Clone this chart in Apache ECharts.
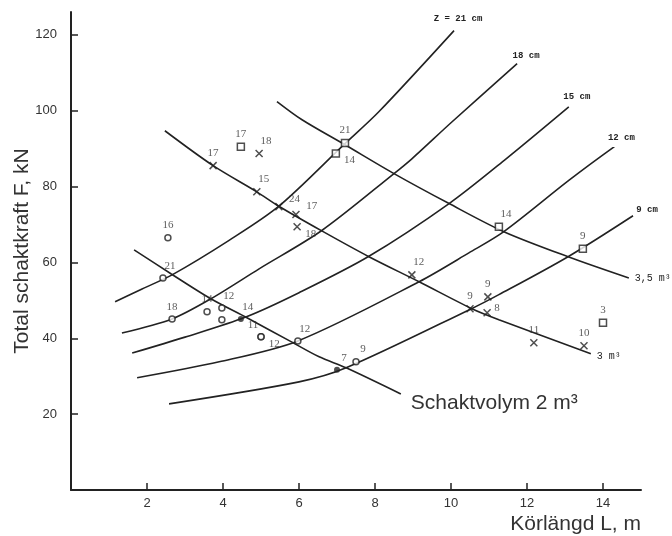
<!DOCTYPE html>
<html>
<head>
<meta charset="utf-8">
<script src="https://cdn.jsdelivr.net/npm/echarts@6/dist/echarts.min.js"></script>
<style>
  html, body { margin: 0; padding: 0; background: #fff; }
  #chart { width: 672px; height: 536px; }
</style>
</head>
<body>
<div id="chart"></div>
<script>
// Z-kurvor (skärdjup), rästa fram ur diagrammet
const z21X = [1.16, 1.87, 2.66, 4.16, 5.47, 7.21, 8.1, 10.08]
const z21Y = [49.6, 53.0, 56.7, 65.8, 74.8, 91.3, 99.7, 121.1]
const z18X = [1.34, 2.66, 3.68, 4.95, 6.6, 8.5, 8.97, 10.0, 11.74]
const z18Y = [41.4, 45.1, 50.4, 58.3, 68.4, 83.4, 87.3, 96.8, 112.4]
const z15X = [1.61, 3.0, 4.6, 6.0, 7.84, 9.95, 11.45, 13.1]
const z15Y = [36.1, 40.3, 45.6, 52.0, 61.6, 75.5, 87.3, 101.0]
const z12X = [1.74, 3.9, 5.97, 9.16, 10.47, 11.39, 13.1, 14.3]
const z12Y = [29.6, 33.8, 39.3, 54.9, 62.5, 68.1, 81.6, 90.5]
const z9X = [2.58, 6.0, 7.24, 10.5, 11.26, 13.08, 14.79]
const z9Y = [22.7, 28.5, 32.2, 47.6, 51.5, 61.5, 72.3]

// schaktvolym-kurvor
const v2X = [1.66, 2.63, 3.68, 4.63, 5.79, 6.53, 7.24, 8.68]
const v2Y = [63.3, 57.0, 50.4, 45.4, 39.1, 35.1, 32.2, 25.3]
const v3X = [2.47, 3.74, 4.89, 5.47, 6.6, 7.84, 9.16, 10.55, 11.26, 13.68]
const v3Y = [94.7, 85.5, 78.6, 74.8, 68.3, 61.5, 54.9, 47.8, 44.9, 35.9]
const v35X = [5.42, 6.08, 7.21, 8.5, 9.95, 11.39, 13.08, 14.68]
const v35Y = [102.4, 97.6, 91.0, 83.4, 75.5, 68.1, 61.5, 55.9]

// mätpunkter
const circleX = [2.55, 2.42, 2.66, 3.58, 3.97, 3.97, 5.0, 5.0, 5.97, 7.5]
const circleY = [66.5, 55.9, 45.1, 47.0, 48.0, 44.9, 40.4, 40.4, 39.3, 33.8]
const circleNo = ['16', '21', '18', '14', '12', '', '11', '12', '12', '9']
const dotX = [4.47, 7.0]
const dotY = [45.1, 31.7]
const dotNo = ['14', '7']
const crossX = [3.74, 4.95, 4.89, 5.47, 5.92, 5.95, 8.97, 10.5, 10.97, 10.95, 12.18, 13.5]
const crossY = [85.5, 88.7, 78.6, 74.7, 72.6, 69.4, 56.7, 47.8, 50.9, 46.7, 38.8, 38.0]
const crossNo = ['17', '18', '15', '24', '17', '18', '12', '9', '9', '8', '11', '10']
const squareX = [4.47, 6.97, 7.21, 11.26, 13.47, 14.0]
const squareY = [90.5, 88.7, 91.5, 69.4, 63.6, 44.1]
const squareNo = ['17', '14', '21', '14', '9', '3']

const xTicks = [2, 4, 6, 8, 10, 12, 14]
const yTicks = [20, 40, 60, 80, 100, 120]

const ink = '#222'
const mono = 'Liberation Mono'

// var etiketten hamnar runt punkten
const place = {
  top: { position: 'top', distance: 3 },
  tr: { position: 'top', distance: 3, offset: [7, 0] },
  tl: { position: 'top', distance: 2, offset: [-8, 0] },
  rt: { position: 'right', distance: 4, offset: [2, -8] },
  r: { position: 'right', distance: 3, offset: [0, -5] },
  br: { position: 'right', distance: 3, offset: [1, 7] },
  none: { show: false }
}
const circlePlace = ['top', 'tr', 'top', 'top', 'tr', 'none', 'tl', 'br', 'tr', 'tr']
const dotPlace = ['tr', 'tr']
const crossPlace = ['top', 'tr', 'tr', 'rt', 'rt', 'br', 'tr', 'top', 'top', 'r', 'top', 'top']
const squarePlace = ['top', 'br', 'top', 'tr', 'top', 'top']

const pair = (xs, ys) => xs.map((x, i) => [x, ys[i]])

const curve = (xs, ys, text, lab) => ({
  type: 'line',
  data: pair(xs, ys),
  showSymbol: false,
  smooth: 0.3,
  silent: true,
  lineStyle: { color: ink, width: 1.6 },
  markPoint: {
    silent: true,
    symbol: 'circle',
    symbolSize: 0,
    data: [{ coord: [xs[xs.length - 1], ys[ys.length - 1]] }],
    label: Object.assign({ show: true, position: 'inside', formatter: text, color: ink }, lab)
  }
})

const zLab = (dx, dy) => ({ offset: [dx, dy], fontFamily: mono, fontSize: 9, fontWeight: 'bold' })

const points = (xs, ys, nos, places, symbol, size, style) => ({
  type: 'scatter',
  silent: true,
  symbol: symbol,
  symbolSize: size,
  itemStyle: style,
  z: 3,
  data: xs.map((x, i) => ({
    value: [x, ys[i]],
    label: Object.assign({ show: true, formatter: nos[i] }, place[places[i]])
  })),
  label: { fontFamily: 'Liberation Serif', fontSize: 11, color: '#333' }
})

const option = {
  animation: false,
  backgroundColor: '#fff',
  grid: { left: 71, right: 31, top: 12, bottom: 46, outerBoundsMode: 'none' },
  xAxis: {
    type: 'value',
    min: 0,
    max: 15,
    name: 'Körlängd L, m',
    nameLocation: 'end',
    nameGap: 0,
    nameTextStyle: {
      fontFamily: 'Liberation Sans', fontSize: 21, color: '#333',
      align: 'right', verticalAlign: 'top', padding: [24, 0, 0, 0]
    },
    axisLine: { lineStyle: { color: ink, width: 2 } },
    axisTick: { inside: true, length: 7, customValues: xTicks, lineStyle: { color: ink, width: 1.5 } },
    axisLabel: { customValues: xTicks, margin: 7, fontFamily: 'Liberation Sans', fontSize: 13, color: '#333' },
    splitLine: { show: false }
  },
  yAxis: {
    type: 'value',
    min: 0,
    max: 126,
    name: 'Total schaktkraft F, kN',
    nameLocation: 'middle',
    nameGap: 38,
    nameMoveOverlap: false,
    nameTextStyle: { fontFamily: 'Liberation Sans', fontSize: 21, color: '#333' },
    axisLine: { lineStyle: { color: ink, width: 2 } },
    axisTick: { inside: true, length: 7, customValues: yTicks, lineStyle: { color: ink, width: 1.5 } },
    axisLabel: { customValues: yTicks, margin: 14, fontFamily: 'Liberation Sans', fontSize: 13, color: '#333' },
    splitLine: { show: false }
  },
  series: [
    curve(z21X, z21Y, 'Z = 21 cm', zLab(4, -12)),
    curve(z18X, z18Y, '18 cm', zLab(9, -8)),
    curve(z15X, z15Y, '15 cm', zLab(8, -10)),
    curve(z12X, z12Y, '12 cm', zLab(7, -9)),
    curve(z9X, z9Y, '9 cm', zLab(14, -6)),
    curve(v2X, v2Y, 'Schaktvolym 2 m³', { align: 'left', offset: [10, 9], fontFamily: 'Liberation Sans', fontSize: 21, color: '#333' }),
    curve(v3X, v3Y, '3 m³', { align: 'left', offset: [6, 3], fontFamily: mono, fontSize: 10 }),
    curve(v35X, v35Y, '3,5 m³', { align: 'left', offset: [6, 0], fontFamily: mono, fontSize: 10 }),
    points(circleX, circleY, circleNo, circlePlace, 'circle', 6, { color: '#fff', borderColor: ink, borderWidth: 1.5 }),
    points(dotX, dotY, dotNo, dotPlace, 'circle', 6, { color: ink }),
    points(crossX, crossY, crossNo, crossPlace, 'path://M0,0L10,10M10,0L0,10', 7, { color: 'rgba(0,0,0,0)', borderColor: ink, borderWidth: 1.5 }),
    points(squareX, squareY, squareNo, squarePlace, 'rect', 7, { color: '#fff', borderColor: ink, borderWidth: 1.5 })
  ]
}

const chart = echarts.init(document.getElementById('chart'))
chart.setOption(option)
</script>
</body>
</html>
